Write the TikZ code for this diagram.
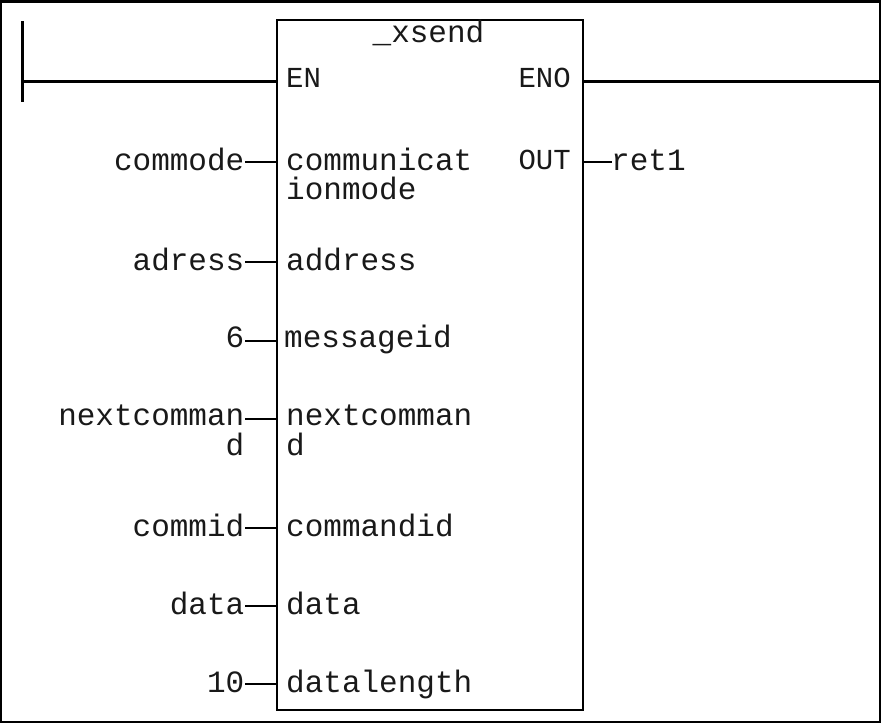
\documentclass[tikz,border=0pt]{standalone}
\usepackage{fontspec}
\setmainfont{Liberation Mono}
\tikzset{
  lbl/.style={inner sep=0pt, font=\fontsize{31}{31}\selectfont, text=black!90},
  capl/.style={inner sep=0pt, font=\fontsize{29}{29}\selectfont, text=black!90},
  pinl/.style={lbl, anchor=base west},
  varl/.style={lbl, anchor=base east, align=right},
  wire/.style={line width=2pt, black},
  rail/.style={line width=3pt, black}
}
\begin{document}
\begin{tikzpicture}[x=1pt,y=-1pt,line cap=butt]
\useasboundingbox (0,0) rectangle (881,723);
\draw[line width=3pt] (0.5,1.5) rectangle (880.5,722);
\node[draw, line width=2pt, outer sep=0pt, minimum width=306pt, minimum height=690pt, anchor=north west, inner sep=0pt] (fb) at (277,20) {};
\node[lbl, anchor=base] (title) at (428.5,42) {\_xsend};
\node[capl, anchor=base west] (en) at (286,87) {EN};
\node[capl, anchor=base east] (eno) at (571,87) {ENO};
\node[capl, anchor=base east] (out) at (571,169) {OUT};
\node[pinl] (p1) at (286,170) {communicat};
\node[pinl] (p1b) at (286,199) {ionmode};
\node[pinl] (p2) at (286,270) {address};
\node[pinl] (p3) at (284,347) {messageid};
\node[pinl] (p4) at (286,425) {nextcomman};
\node[pinl] (p4b) at (286,455) {d};
\node[pinl] (p5) at (286,536) {commandid};
\node[pinl] (p6) at (286,614) {data};
\node[pinl] (p7) at (286,692) {datalength};
\node[varl] (v1) at (244.5,170) {commode};
\node[varl] (v2) at (244.5,270) {adress};
\node[varl] (v3) at (244.5,347) {6};
\node[varl] (v4) at (244.5,425) {nextcomman};
\node[varl] (v4b) at (244.5,455) {d};
\node[varl] (v5) at (244.5,536) {commid};
\node[varl] (v6) at (244.5,614) {data};
\node[varl] (v7) at (244.5,692) {10};
\node[lbl, anchor=base west] (r1) at (611,170) {ret1};
\coordinate (railtop) at (22,21);
\coordinate (railbot) at (22,102);
\coordinate (railmid) at (22,81);
\coordinate (railend) at (881,81);
\coordinate (s1) at (245,162);
\coordinate (s2) at (245,262);
\coordinate (s3) at (245,341);
\coordinate (s4) at (245,419);
\coordinate (s5) at (245,528);
\coordinate (s6) at (245,606);
\coordinate (s7) at (245,684);
\coordinate (so) at (612,162);
\draw[rail] (railtop) -- (railbot);
\draw[rail] (railmid) -- (fb.west |- railmid);
\draw[rail] (fb.east |- railend) -- (railend);
\foreach \s in {s1,s2,s3,s4,s5,s6,s7}{
  \draw[wire] (\s) -- (fb.west |- \s);
}
\draw[wire] (fb.east |- so) -- (so);
\end{tikzpicture}
\end{document}
